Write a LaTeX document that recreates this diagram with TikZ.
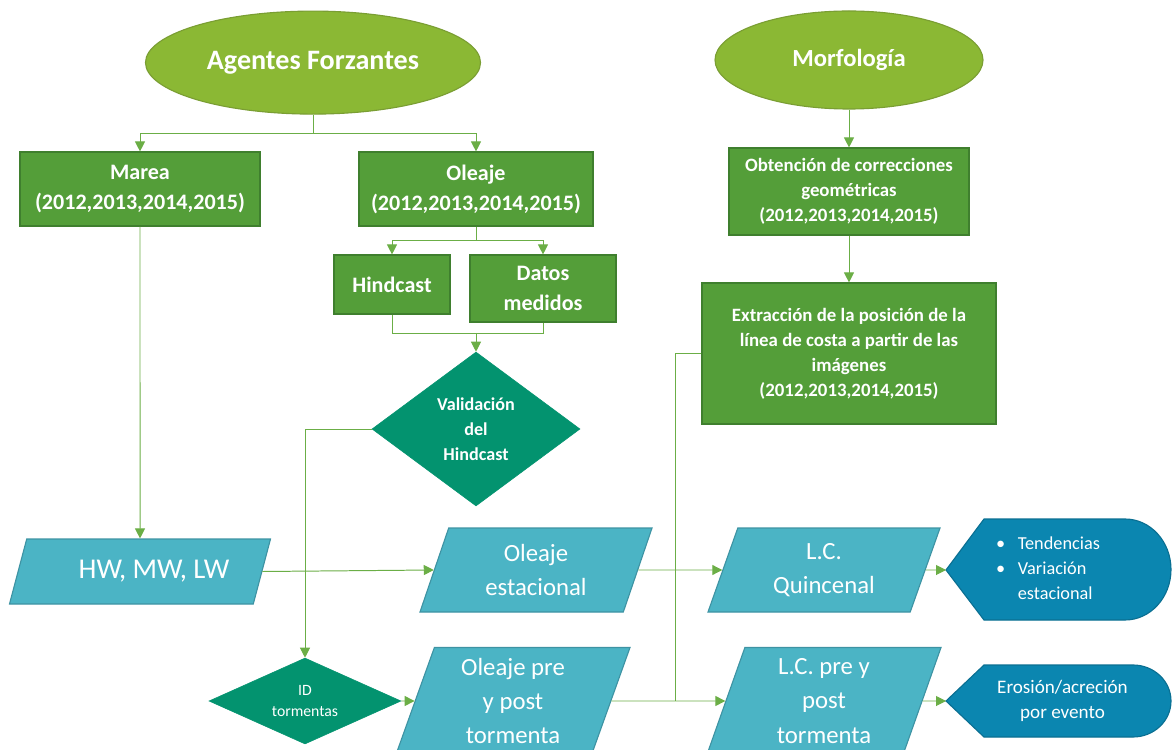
\documentclass[tikz,border=0pt]{standalone}
\usepackage{fontspec}
\setmainfont{Carlito}
\usetikzlibrary{shapes.geometric,arrows.meta}

\definecolor{olive}{HTML}{8BB834}
\definecolor{olivedark}{HTML}{7A9E33}
\definecolor{gfill}{HTML}{549E39}
\definecolor{gdark}{HTML}{3F7F2E}
\definecolor{tealfill}{HTML}{03936F}
\definecolor{paracol}{HTML}{4BB4C5}
\definecolor{paradark}{HTML}{3E93A3}
\definecolor{dispcol}{HTML}{0B86B0}
\definecolor{dispdark}{HTML}{0A6F92}
\definecolor{lnk}{HTML}{6BAE46}

\begin{document}
\begin{tikzpicture}[
  ellip/.style={ellipse, draw=olivedark, fill=olive, line width=0.8pt, text=white, inner sep=0pt, font=\bfseries\fontsize{20}{24}\selectfont},
  gbox/.style={rectangle, draw=gdark, fill=gfill, line width=0.8pt, text=white, align=center, inner sep=0pt, font=\bfseries\fontsize{15.7}{21.3}\selectfont},
  sbox/.style={gbox, font=\bfseries\fontsize{13.4}{17.8}\selectfont},
  dec/.style={diamond, fill=tealfill, draw=tealfill, text=white, align=center, inner sep=0pt, font=\bfseries\fontsize{12.9}{17.8}\selectfont},
  para/.style={trapezium, trapezium left angle=61, trapezium right angle=119, trapezium stretches body, draw=paradark, fill=paracol, line width=0.8pt, text=white, align=center, inner sep=0pt, font=\fontsize{17.6}{24.5}\selectfont},
  disp/.style={draw=dispdark, fill=dispcol, line width=0.8pt},
  disptext/.style={text=white, align=left, inner sep=0pt, font=\fontsize{13}{18}\selectfont},
  lnkline/.style={draw=lnk, line width=0.7pt},
  conn/.style={lnkline, -{Triangle[length=2.5mm,width=2.5mm]}}]

\useasboundingbox (0,0) rectangle (29.3,18.725);

% upper part
\node[ellip, minimum width=8.375cm, minimum height=2.575cm] (agentes) at(7.825,17.16) {Agentes Forzantes};
\node[ellip, minimum width=6.7cm, minimum height=2.45cm, font=\bfseries\fontsize{17.5}{21}\selectfont] (morf) at(21.225,17.225) {Morfología};

\node[gbox, minimum width=6cm, minimum height=1.85cm] (marea) at(3.5,14) {Marea\\(2012,2013,2014,2015)};
\node[gbox, minimum width=5.85cm, minimum height=1.85cm] (oleaje) at(11.9,14) {Oleaje\\(2012,2013,2014,2015)};
\node[gbox, minimum width=2.9cm, minimum height=1.475cm] (hind) at(9.8,11.6125) {Hindcast};
\node[gbox, minimum width=3.65cm, minimum height=1.675cm] (datos) at(13.575,11.5125) {Datos\\medidos};

\node[sbox, minimum width=6cm, minimum height=2.175cm] (obt) at(21.225,13.9375) {Obtención de correcciones\\geométricas\\ (2012,2013,2014,2015)};
\node[sbox, minimum width=7.35cm, minimum height=3.525cm] (extr) at(21.225,9.8875) {Extracción de la posición de la\\línea de costa a partir de las\\imágenes\\(2012,2013,2014,2015)};

\node[dec, aspect=1.35, minimum width=5.2cm, minimum height=3.85cm] (valid) at(11.9,8) {Validación\\del\\Hindcast};
\node[dec, aspect=2.23, minimum width=4.8cm, minimum height=2.15cm, font=\fontsize{11.2}{15.6}\selectfont] (idt) at(7.625,1.2) {ID\\tormentas};

% data
\node[para, trapezium left angle=52, trapezium right angle=128, minimum width=6.525cm, minimum height=1.625cm, font=\fontsize{20.4}{24}\selectfont] (hw) at(3.5,4.4375) {\hspace*{0.7cm}HW, MW, LW};
\node[para, minimum width=5.8cm, minimum height=2.1cm] (estac) at(13.4,4.475) {Oleaje\\estacional};
\node[para, trapezium left angle=66, trapezium right angle=114, minimum width=5.85cm, minimum height=2.675cm] (olpre) at(12.825,1.2) {Oleaje pre\\y post\\tormenta};
\node[para, minimum width=5.8cm, minimum height=2.1cm] (lcq) at(20.6,4.475) {L.C.\\Quincenal};
\node[para, trapezium left angle=66, trapezium right angle=114, minimum width=5.85cm, minimum height=2.675cm] (lcpre) at(20.6,1.2) {L.C. pre y\\post\\tormenta};

% results
\filldraw[disp] (23.65,4.475) -- (24.6,5.75) -- (28.125,5.75) arc[start angle=90, end angle=-90, x radius=1.15cm, y radius=1.2625cm] -- (24.6,3.225) -- cycle;
\coordinate (tendL) at(23.65,4.475);
\node[disptext] (tend) at(26.2,4.4875) {\begin{tabular}{@{}l@{\hspace{9pt}}l@{}}•&Tendencias\\•&Variación\\&estacional\end{tabular}};

\filldraw[disp] (23.65,1.2) -- (24.6,2.1) -- (28.325,2.1) arc[start angle=90, end angle=-90, x radius=0.95cm, y radius=0.9cm] -- (24.6,0.3) -- cycle;
\coordinate (eroL) at(23.65,1.2);
\node[disptext, align=center, font=\fontsize{13.6}{18}\selectfont] (ero) at(26.5625,1.2) {Erosión/acreción\\por evento};

% connectors
\coordinate (split1) at(7.825,15.4);
\draw[lnkline] (agentes.south) -- (split1);
\draw[conn] (split1) -| (marea.north);
\draw[conn] (split1) -| (oleaje.north);

\coordinate (split2) at(11.9,12.725);
\draw[lnkline] (oleaje.south) -- (split2);
\draw[conn] (split2) -| (hind.north);
\draw[conn] (split2) -| (datos.north);

\coordinate (join) at(11.9,10.4);
\draw[lnkline] (hind.south) |- (join);
\draw[lnkline] (datos.south) |- (join);
\draw[conn] (join) -- (valid.north);

\draw[conn] (valid.west) -| (idt.north);
\draw[conn] (idt.east) -- (olpre.west);

\draw[conn] (marea.south) -- (hw.north);
\draw[conn] (hw.east) -- (estac.west);
\draw[conn] (estac.east) -- (lcq.west);
\draw[conn] (olpre.east) -- (lcpre.west);

\draw[conn] (morf.south) -- (obt.north);
\draw[conn] (obt.south) -- (extr.north);
\coordinate (vjoin) at(16.875,1.2);
\draw[lnkline] (extr.west) -| (vjoin);

\draw[conn] (lcq.east) -- (tendL);
\draw[conn] (lcpre.east) -- (eroL);

\end{tikzpicture}
\end{document}
